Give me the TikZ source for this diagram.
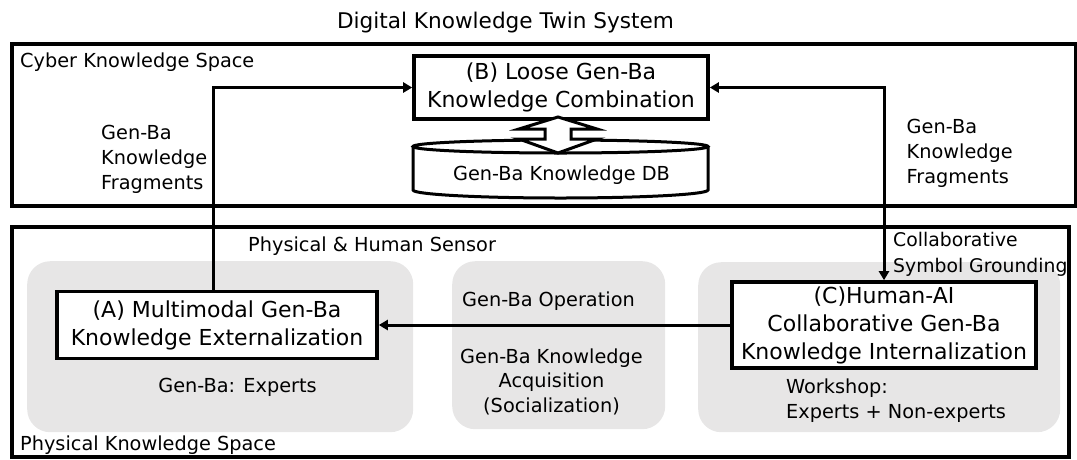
\documentclass[tikz,border=0pt]{standalone}
\usepackage{fontspec}
\setmainfont{DejaVu Sans}
\usetikzlibrary{arrows.meta,calc}
\definecolor{panelgray}{RGB}{231,230,230}
\begin{document}
\begin{tikzpicture}[x=1pt,y=-1pt,
  lbl/.style={inner sep=0pt, font=\fontsize{19.3}{25}\selectfont},
  boxtxt/.style={draw, line width=3.6pt, fill=white, align=center, inner sep=0pt,
    font=\fontsize{22}{28}\selectfont},
  spacebox/.style={draw, line width=3.6pt, inner sep=0pt, anchor=north west},
  panel/.style={fill=panelgray, draw=none, rounded corners=23pt, inner sep=0pt, anchor=north west},
  conn/.style={line width=3pt, -{Triangle[length=9pt,width=10pt]}},
  conn2/.style={line width=3pt, {Triangle[length=9pt,width=10pt]}-{Triangle[length=9pt,width=10pt]}},
]
\useasboundingbox (0,0) rectangle (1077,459);

% title
\node[lbl, font=\fontsize{21.6}{26}\selectfont, anchor=base] (title) at (505.5,28) {Digital Knowledge Twin System};

% spaces
\node[spacebox, minimum width=1064, minimum height=162] (cyber) at (10,42) {};
\node[lbl, anchor=base west] (cyberlbl) at (20,67) {Cyber Knowledge Space};
\node[spacebox, minimum width=1057, minimum height=230] (phys) at (10,225) {};
\node[lbl, anchor=base west] (physlbl) at (20,450) {Physical Knowledge Space};

% grey panels
\node[panel, minimum width=386, minimum height=171] (pA) at (27,261) {};
\node[panel, minimum width=213, minimum height=168] (pM) at (452,261) {};
\node[panel, minimum width=362, minimum height=170] (pC) at (698,262) {};

% texts in physical space
\node[lbl, anchor=base west] (sensor) at (248,251) {Physical \& Human Sensor};
\node[lbl, anchor=base] (experts) at (237.5,392) {Gen-Ba: Experts};
\node[lbl, anchor=base west] (oper) at (462,306) {Gen-Ba Operation};
\node[lbl, anchor=north, align=center, font=\fontsize{19.3}{24.5}\selectfont] (acq) at (551.5,348.5) {Gen-Ba Knowledge\\Acquisition\\(Socialization)};
\node[lbl, anchor=north west, align=left] (workshop) at (786,378.5) {Workshop:\\Experts + Non-experts};
\node[lbl, anchor=north west, align=left, font=\fontsize{18.8}{26}\selectfont] (csg) at (893,232.5) {Collaborative\\Symbol Grounding};

% labels in cyber space
\node[lbl, anchor=north west, align=left] (fragL) at (101,124.5) {Gen-Ba\\Knowledge\\Fragments};
\node[lbl, anchor=north west, align=left] (fragR) at (906.5,118.5) {Gen-Ba\\Knowledge\\Fragments};

% database cylinder
\draw[line width=3pt, fill=white] (413,146.5) -- (413,190)
  arc[start angle=180, end angle=0, x radius=147.5, y radius=8] -- (708,146.5);
\draw[line width=3pt, fill=white] (560.5,146.5) ellipse [x radius=147.5, y radius=6.5];
\node[lbl, anchor=base] (db) at (561.5,180) {Gen-Ba Knowledge DB};

% main boxes
\node[boxtxt, minimum width=294, minimum height=63] (B) at (561,87.5) {(B) Loose Gen-Ba\\Knowledge Combination};
\node[boxtxt, minimum width=320, minimum height=67] (A) at (217,325) {(A) Multimodal Gen-Ba\\Knowledge Externalization};
\node[boxtxt, minimum width=304, minimum height=86] (C) at (884,325) {(C)Human-AI\\Collaborative Gen-Ba\\Knowledge Internalization};

% double block arrow between B and DB
\draw[line width=3pt, fill=white, line join=miter]
  (558,117) -- (597,129) -- (571,129) -- (571,139) -- (597,139) -- (558,153)
  -- (519,139) -- (545,139) -- (545,129) -- (519,129) -- cycle;

% connectors
\coordinate (L) at (213,87.5);
\coordinate (R) at (884,87.5);
\draw[conn] (A.north -| L) -- (L) -- (B.west);
\draw[conn2] (B.east) -- (R) -- (C.north);
\draw[conn] (C.west) -- (A.east);
\end{tikzpicture}
\end{document}
